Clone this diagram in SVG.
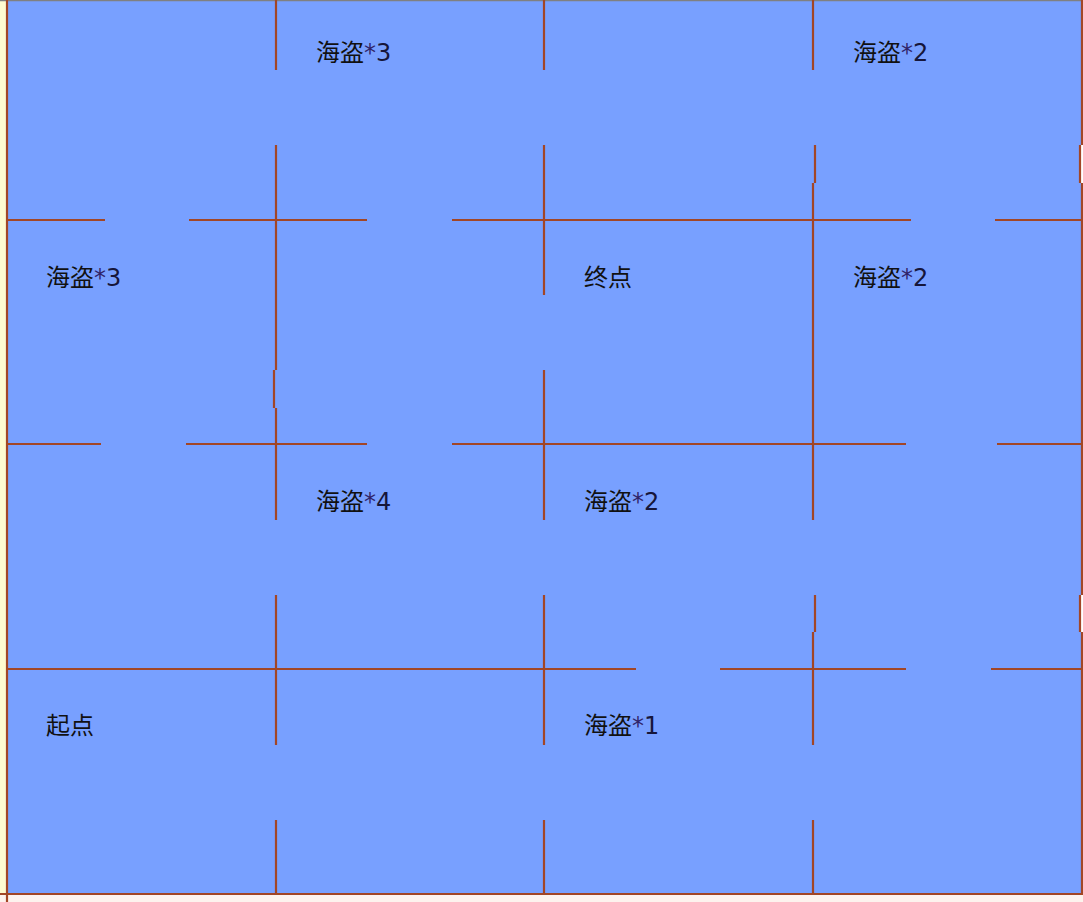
<svg xmlns="http://www.w3.org/2000/svg" width="1083" height="902" viewBox="0 0 1083 902">
<style>
.w{stroke:#a24626;stroke-width:2.2;fill:none}
.t{font-family:"Noto Sans CJK SC","Noto Sans",sans-serif;font-size:24px;fill:#111}
.s{fill:#302468;font-family:"DejaVu Sans",sans-serif}
.d{fill:#16163a;font-family:"DejaVu Sans",sans-serif}
</style>
<rect x="0" y="0" width="1083" height="902" fill="#ffffff"/>
<rect x="0" y="0" width="7" height="902" fill="#fffbd0"/>
<rect x="7" y="0" width="1076" height="894" fill="#78a0ff"/>
<rect x="0" y="895" width="1083" height="7" fill="#fdf3ee"/>
<line x1="0" y1="0.5" x2="1083" y2="0.5" stroke="#808080" stroke-width="1.5"/>
<g id="walls">
<line class="w" x1="7" y1="0" x2="7" y2="902"/>
<line class="w" x1="0" y1="894" x2="1083" y2="894"/>
<path class="w" d="M1082 0V145M1082 183V595M1082 632V894"/>
<rect x="1081" y="145" width="2" height="38" fill="#fff"/>
<rect x="1081" y="595" width="2" height="37" fill="#fff"/>
<path class="w" d="M1080 145V183M1080 595V632"/>
<path class="w" d="M7 220H105M189 220H367M452 220H911M995 220H1082"/>
<path class="w" d="M7 444H101M186 444H367M452 444H906M997 444H1082"/>
<path class="w" d="M7 669H636M720 669H906M991 669H1082"/>
<path class="w" d="M276 0V70M276 145V370M274 370V408M276 408V520M276 595V745M276 820V894"/>
<path class="w" d="M544 0V70M544 145V295M544 370V520M544 595V745M544 820V894"/>
<path class="w" d="M813 0V70M815 145V183M813 183V520M815 595V632M813 632V745M813 820V894"/>
</g>
<g id="n1"><text class="t" x="316" y="61">海盗<tspan class="s">*</tspan><tspan class="d">3</tspan></text></g>
<g id="n2"><text class="t" x="853" y="61">海盗<tspan class="s">*</tspan><tspan class="d">2</tspan></text></g>
<g id="n3"><text class="t" x="46" y="286">海盗<tspan class="s">*</tspan><tspan class="d">3</tspan></text></g>
<g id="n4"><text class="t" x="584" y="286">终点</text></g>
<g id="n5"><text class="t" x="853" y="286">海盗<tspan class="s">*</tspan><tspan class="d">2</tspan></text></g>
<g id="n6"><text class="t" x="316" y="510">海盗<tspan class="s">*</tspan><tspan class="d">4</tspan></text></g>
<g id="n7"><text class="t" x="584" y="510">海盗<tspan class="s">*</tspan><tspan class="d">2</tspan></text></g>
<g id="n8"><text class="t" x="46" y="734">起点</text></g>
<g id="n9"><text class="t" x="584" y="734">海盗<tspan class="s">*</tspan><tspan class="d">1</tspan></text></g>
</svg>
